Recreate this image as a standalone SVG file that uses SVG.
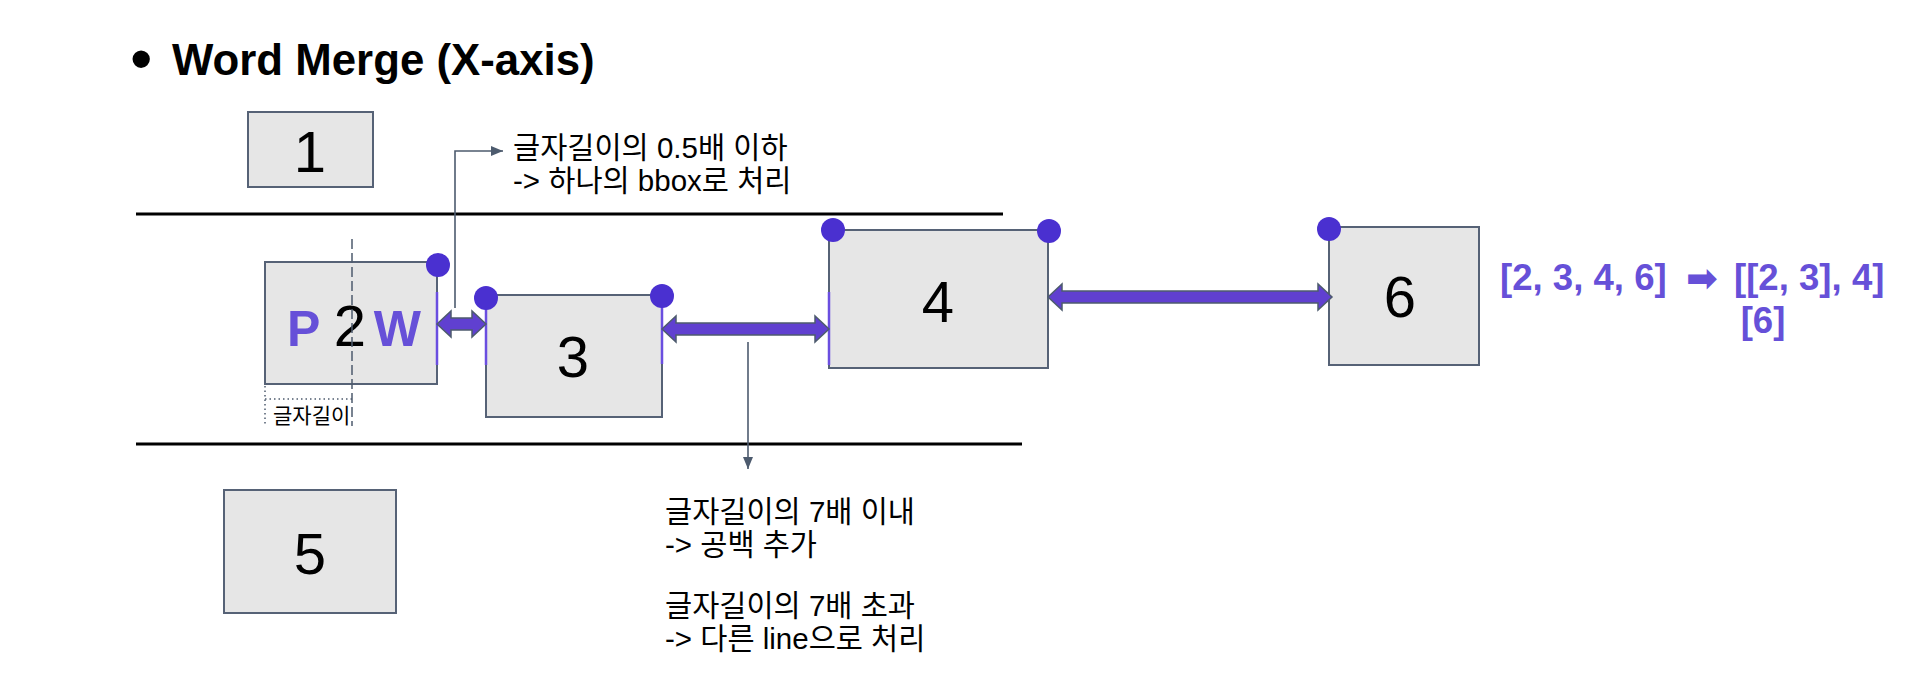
<svg xmlns="http://www.w3.org/2000/svg" width="1907" height="698" viewBox="0 0 1907 698">
<defs>
<style>
.box{fill:#e6e6e6;stroke:#566276;stroke-width:2}
.num{font-family:"Liberation Sans",Arial,sans-serif;font-size:58px;fill:#000;text-anchor:middle}
.ko{font-family:"Liberation Sans","Noto Sans CJK KR",sans-serif;font-size:29.5px;fill:#000}
.conn{fill:none;stroke:#4d5b6e;stroke-width:1.6}
.darr{fill:#6040d0;stroke:#4d5b6e;stroke-width:1.5;stroke-linejoin:miter}
.mark{stroke:#6a4ee0;stroke-width:2.5}
.dot{fill:#4a30d0}
.pur{font-family:"Liberation Sans",Arial,sans-serif;font-weight:bold;fill:#6650d8}
.hline{stroke:#000;stroke-width:3}
</style>
<marker id="ah" viewBox="0 0 12 10" refX="12" refY="5" markerWidth="12" markerHeight="10" markerUnits="userSpaceOnUse" orient="auto">
<path d="M0,0 L12,5 L0,10 Z" fill="#4d5b6e"/>
</marker>
</defs>
<rect width="1907" height="698" fill="#fff"/>
<g id="title">
<text x="130" y="81" font-family="Liberation Sans,Arial,sans-serif" font-size="64" fill="#000">•</text>
<text x="172" y="75" font-family="Liberation Sans,Arial,sans-serif" font-size="43.8" font-weight="bold" fill="#000">Word Merge (X-axis)</text>
</g>
<g id="lines">
<line class="hline" x1="136" y1="214" x2="1003" y2="214"/>
<line class="hline" x1="136" y1="444" x2="1022" y2="444"/>
</g>
<g id="node1"><rect class="box" x="248" y="112" width="125" height="75"/><text class="num" x="310" y="172">1</text></g>
<g id="node2">
<rect class="box" x="265" y="262" width="172" height="122"/>
<text class="pur" x="287" y="346" font-size="50">P</text>
<text class="num" x="350" y="346">2</text>
<text class="pur" x="421" y="346" font-size="50" text-anchor="end">W</text>
</g>
<g id="node3"><rect class="box" x="486" y="295" width="176" height="122"/><text class="num" x="573" y="377">3</text></g>
<g id="node4"><rect class="box" x="829" y="230" width="219" height="138"/><text class="num" x="938" y="322">4</text></g>
<g id="node5"><rect class="box" x="224" y="490" width="172" height="123"/><text class="num" x="310" y="574">5</text></g>
<g id="node6"><rect class="box" x="1329" y="227" width="150" height="138"/><text class="num" x="1400" y="317">6</text></g>
<g id="measure">
<line x1="352" y1="239" x2="352" y2="426" stroke="#4d5b6e" stroke-width="1.5" stroke-dasharray="10 4"/>
<line x1="265" y1="386" x2="265" y2="426" stroke="#4d5b6e" stroke-width="1.5" stroke-dasharray="1.5 3"/>
<line x1="265" y1="399" x2="352" y2="399" stroke="#4d5b6e" stroke-width="1.5" stroke-dasharray="1.5 3"/>
<text x="273" y="423" font-family="Liberation Sans,Noto Sans CJK KR,sans-serif" font-size="21" fill="#000">글자길이</text>
</g>
<g id="connectors">
<line class="mark" x1="437" y1="292" x2="437" y2="365"/>
<line class="mark" x1="486" y1="298" x2="486" y2="365"/>
<line class="mark" x1="662" y1="296" x2="662" y2="364"/>
<line class="mark" x1="829" y1="292" x2="829" y2="365"/>
<polygon class="darr" points="437,324 451,311 451,318 472,318 472,311 486,324 472,337 472,330 451,330 451,337"/>
<polygon class="darr" points="662,329 676,316 676,323 815,323 815,316 829,329 815,342 815,335 676,335 676,342"/>
<polygon class="darr" points="1048,297 1062,284 1062,291 1318,291 1318,284 1332,297 1318,310 1318,303 1062,303 1062,310"/>
<path class="conn" d="M455,308 V151 H503" marker-end="url(#ah)"/>
<path class="conn" d="M748,342 V469" marker-end="url(#ah)"/>
<circle class="dot" cx="438" cy="265" r="12"/>
<circle class="dot" cx="486" cy="298" r="12"/>
<circle class="dot" cx="662" cy="296" r="12"/>
<circle class="dot" cx="833" cy="230" r="12"/>
<circle class="dot" cx="1049" cy="231" r="12"/>
<circle class="dot" cx="1329" cy="229" r="12"/>
</g>
<g id="note1">
<text class="ko" x="513" y="158">글자길이의 0.5배 이하</text>
<text class="ko" x="513" y="191">-&gt; 하나의 bbox로 처리</text>
</g>
<g id="note2">
<text class="ko" x="665" y="522">글자길이의 7배 이내</text>
<text class="ko" x="665" y="555">-&gt; 공백 추가</text>
<text class="ko" x="665" y="616">글자길이의 7배 초과</text>
<text class="ko" x="665" y="649">-&gt; 다른 line으로 처리</text>
</g>
<g id="result">
<text class="pur" font-size="36.6" y="290"><tspan x="1500">[2, 3, 4, 6]</tspan><tspan x="1686" y="291" font-family="DejaVu Sans,sans-serif" font-size="38">➡</tspan><tspan x="1734" y="290">[[2, 3], 4]</tspan></text>
<text class="pur" font-size="36.6" x="1763" y="333" text-anchor="middle">[6]</text>
</g>
</svg>
